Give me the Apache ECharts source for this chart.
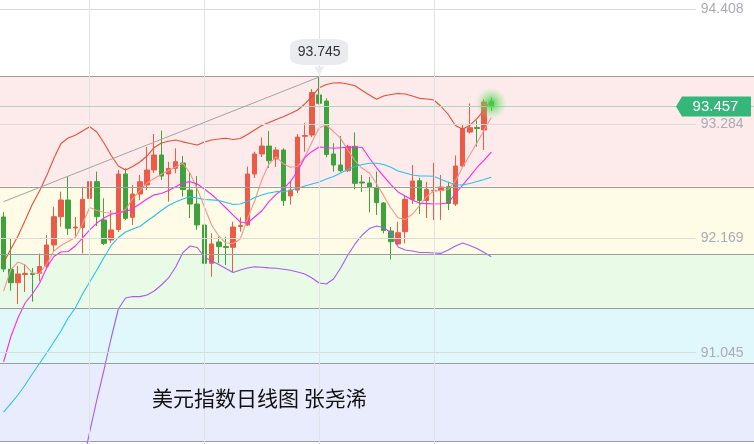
<!DOCTYPE html>
<html><head><meta charset="utf-8">
<script src="https://cdn.jsdelivr.net/npm/echarts@6/dist/echarts.min.js"></script>
<style>html,body{margin:0;padding:0;background:#fff}#c{width:754px;height:444px}</style>
</head><body><div id="c"></div>
<script>
// ---- data ----
const categories = Array.from({length: 69}, (_, i) => 'D' + (i + 1));
const opens = [92.374,91.862,91.731,91.811,91.821,91.823,91.894,92.100,92.377,92.540,
92.266,92.271,92.557,92.720,92.345,92.149,92.252,92.795,92.371,92.599,
92.687,92.834,92.981,92.795,92.851,92.903,92.638,92.501,92.296,91.921,
92.129,92.085,92.077,92.281,92.296,92.795,92.991,93.069,92.942,93.030,
92.580,92.638,93.164,93.177,93.569,93.510,92.991,92.883,92.827,93.066,
92.717,92.707,92.658,92.511,92.237,92.110,92.230,92.547,92.729,92.536,
92.629,92.633,92.671,92.501,92.873,93.206,93.250,93.226,93.503];
const closes = [91.865,91.731,91.816,91.821,91.811,91.889,92.100,92.377,92.540,92.263,
92.276,92.547,92.720,92.377,92.116,92.247,92.795,92.361,92.599,92.720,
92.834,92.981,92.775,92.849,92.915,92.643,92.501,92.296,91.921,92.110,
92.083,92.075,92.276,92.291,92.795,92.991,93.069,92.925,93.030,92.534,
92.638,93.157,93.172,93.593,93.487,92.986,92.883,92.827,93.066,92.704,
92.707,92.665,92.514,92.242,92.132,92.220,92.547,92.726,92.534,92.645,
92.635,92.668,92.506,92.873,93.243,93.248,93.241,93.500,93.457];
const lows = [91.835,91.652,91.522,91.639,91.544,91.747,91.874,92.034,92.279,92.198,
92.188,92.018,92.462,92.286,92.100,92.119,92.227,92.345,92.296,92.540,
92.638,92.805,92.736,92.524,92.802,92.573,92.364,92.247,91.872,91.789,
91.921,91.904,91.835,92.230,92.286,92.756,92.961,92.854,92.864,92.482,
92.496,92.609,93.013,93.157,93.476,92.959,92.818,92.815,92.815,92.645,
92.619,92.418,92.394,92.214,91.958,92.100,92.116,92.501,92.403,92.364,
92.345,92.345,92.442,92.482,92.869,93.192,93.062,93.030,93.412];
const highs = [92.423,92.165,91.894,91.914,91.874,92.016,92.198,92.475,92.622,92.775,
92.374,92.671,92.851,92.818,92.557,92.442,92.834,92.851,92.687,92.785,
93.059,93.187,93.219,92.913,93.047,92.971,92.815,92.775,92.305,92.214,
92.181,92.181,92.328,92.371,92.867,93.013,93.152,93.216,93.059,93.047,
92.726,93.187,93.294,93.627,93.745,93.536,93.096,93.167,93.079,93.203,
92.785,92.766,92.818,92.521,92.276,92.328,92.589,92.883,92.759,92.717,
92.903,92.785,92.720,92.976,93.285,93.485,93.319,93.529,93.546];
const bollUpper = [91.927,92.058,92.188,92.339,92.497,92.629,92.777,92.947,93.094,93.148,
93.174,93.216,93.258,93.206,93.099,92.976,92.873,92.834,92.869,92.913,
92.971,93.055,93.099,93.115,93.128,93.110,93.094,93.079,93.108,93.128,
93.138,93.145,93.133,93.143,93.182,93.226,93.270,93.299,93.329,93.355,
93.388,93.422,93.481,93.554,93.640,93.672,93.686,93.689,93.676,93.659,
93.613,93.569,93.527,93.559,93.574,93.583,93.578,93.559,93.536,93.529,
93.520,93.456,93.378,93.270,93.234,93.272,93.337,93.422,93.520];
const ma5 = [91.649,91.857,91.933,91.904,91.826,91.821,91.914,92.041,92.095,92.134,
92.173,92.305,92.467,92.438,92.420,92.411,92.410,92.447,92.554,92.633,
92.707,92.751,92.792,92.830,92.864,92.900,92.802,92.648,92.472,92.296,
92.188,92.119,92.114,92.159,92.354,92.531,92.736,92.893,92.962,92.896,
92.861,92.869,92.962,93.108,93.248,93.275,93.211,93.144,93.027,92.927,
92.851,92.805,92.700,92.583,92.462,92.366,92.348,92.403,92.485,92.576,
92.629,92.633,92.643,92.725,92.864,92.981,93.099,93.226,93.348];
const ma10 = [90.954,91.199,91.385,91.532,91.620,91.723,91.875,91.987,92.031,92.036,
92.090,92.168,92.247,92.315,92.364,92.401,92.418,92.425,92.457,92.501,
92.550,92.591,92.604,92.633,92.670,92.710,92.720,92.697,92.648,92.594,
92.531,92.462,92.393,92.325,92.315,92.374,92.433,92.524,92.596,92.648,
92.722,92.824,92.957,93.016,93.059,93.054,93.047,93.052,93.057,93.059,
93.054,92.952,92.856,92.771,92.690,92.619,92.580,92.540,92.508,92.505,
92.501,92.504,92.511,92.604,92.687,92.769,92.859,92.932,93.010];
const ma20 = [90.464,90.547,90.631,90.729,90.836,90.939,91.042,91.150,91.258,91.385,
91.483,91.620,91.737,91.855,91.977,92.095,92.173,92.227,92.256,92.281,
92.335,92.384,92.438,92.487,92.521,92.550,92.572,92.560,92.546,92.542,
92.536,92.516,92.496,92.501,92.526,92.565,92.589,92.609,92.622,92.622,
92.633,92.655,92.677,92.697,92.717,92.746,92.771,92.805,92.839,92.869,
92.888,92.900,92.900,92.888,92.861,92.825,92.805,92.785,92.775,92.775,
92.773,92.741,92.714,92.690,92.687,92.702,92.722,92.741,92.763];
const bollLower = [null,null,null,null,null,null,null,null,null,null,
89.603,89.945,90.268,90.582,90.876,91.189,91.473,91.581,91.596,91.594,
91.610,91.649,91.708,91.777,91.884,92.026,92.090,92.075,91.982,91.943,
91.909,91.869,91.830,91.855,91.874,91.886,91.882,91.876,91.872,91.863,
91.853,91.835,91.816,91.777,91.728,91.718,91.767,91.874,92.002,92.110,
92.198,92.261,92.286,92.271,92.217,92.080,92.051,92.041,92.026,92.026,
92.022,92.018,92.051,92.090,92.119,92.095,92.066,92.026,91.985];
const tickLabels = [94.408, 93.284, 92.169, 91.045];
const fibLevels = [93.745, 92.675, 92.013, 91.478, 90.943, 90.177];
const lastPrice = 93.457;
const trendStart = 92.524;
const peakIndex = 44;
const titleText = '美元指数日线图 张尧浠';

// ---- styles / layout ----
const Y_MIN = 90.151, Y_MAX = 94.499;
const zoneColors = ['#fdebec', '#fefbe6', '#e9fae6', '#e0f8fb', '#e8ecfd'];
const vLineSlots = [12, 28, 44, 60];
const padCount = 28;

const xData = categories.concat(Array.from({length: padCount}, (_, i) => 'pad' + i));
const ohlc = opens.map((o, i) => [o, closes[i], lows[i], highs[i]]);
const peakHigh = highs[peakIndex];

const zoneAreas = [];
for (let i = 0; i < fibLevels.length - 1; i++) {
  zoneAreas.push([{yAxis: fibLevels[i], itemStyle: {color: zoneColors[i]}}, {yAxis: fibLevels[i + 1]}]);
}

function lineSeries(name, data, color) {
  return {name, type: 'line', xAxisIndex: 1, yAxisIndex: 1, data, symbol: 'none', showSymbol: false,
    lineStyle: {color, width: 1.1}, z: 4, silent: true, connectNulls: false, clip: true};
}

const chart = echarts.init(document.getElementById('c'));
chart.setOption({
  animation: false,
  grid: [{left: 0, right: 0, top: 0, bottom: 0}, {left: 0, right: 58.3, top: 0, bottom: 0}],
  xAxis: [
    {type: 'value', gridIndex: 0, min: 0, max: 754, show: false},
    {type: 'category', gridIndex: 1, data: xData, boundaryGap: true,
     axisLine: {show: false}, axisTick: {show: false}, axisLabel: {show: false}, splitLine: {show: false}}
  ],
  yAxis: [
    {type: 'value', gridIndex: 0, min: Y_MIN, max: Y_MAX, show: false},
    {type: 'value', gridIndex: 1, min: Y_MIN, max: Y_MAX, position: 'right', z: 30,
     axisLine: {show: false}, axisTick: {show: false}, splitLine: {show: false},
     axisLabel: {customValues: tickLabels, formatter: v => v.toFixed(3), color: '#ababb5',
       fontSize: 14, margin: 5, fontFamily: 'Liberation Sans, Arial, sans-serif'}}
  ],
  graphic: [{type: 'text', left: 152, top: 388, z: 100,
    style: {text: titleText, font: '21px "Noto Sans CJK SC"', fill: '#111'}}],
  series: [
    {type: 'line', xAxisIndex: 0, yAxisIndex: 0, data: [], z: 0, silent: true,
     markArea: {silent: true, data: zoneAreas},
     markLine: {silent: true, symbol: ['none', 'none'], label: {show: false},
       lineStyle: {color: '#9d9d9d', width: 1, type: 'solid'},
       data: fibLevels.map(v => ({yAxis: v}))}},
    {type: 'line', xAxisIndex: 1, yAxisIndex: 1, data: [], z: 1, silent: true,
     markLine: {silent: true, symbol: ['none', 'none'], label: {show: false},
       lineStyle: {color: '#dadada', width: 1, type: 'solid'},
       data: tickLabels.map(v => ({yAxis: v})).concat(vLineSlots.map(s => ({xAxis: s, lineStyle: {color: '#e2e2e6'}})))}},
    {type: 'line', xAxisIndex: 0, yAxisIndex: 0, data: [], z: 2, silent: true,
     markLine: {silent: true, symbol: ['none', 'none'], label: {show: false},
       lineStyle: {color: '#a6d8c2', width: 1, type: 'solid'}, data: [{yAxis: lastPrice}]}},
    {type: 'line', xAxisIndex: 1, yAxisIndex: 1, data: [], z: 2, silent: true,
     markLine: {silent: true, symbol: ['none', 'none'], label: {show: false},
       lineStyle: {color: '#a3a3a3', width: 1, type: 'solid'},
       data: [[{coord: [0, trendStart]}, {coord: [peakIndex, peakHigh]}]]}},
    {type: 'candlestick', xAxisIndex: 1, yAxisIndex: 1, data: ohlc, barWidth: 5, z: 3, silent: true,
     itemStyle: {color: '#eb5b47', color0: '#3ea33c', borderColor: '#eb5b47', borderColor0: '#3ea33c', borderWidth: 1}},
    lineSeries('upper', bollUpper, '#e25036'),
    lineSeries('ma5', ma5, '#f5978a'),
    lineSeries('ma10', ma10, '#ff27f0'),
    lineSeries('ma20', ma20, '#27c3ee'),
    lineSeries('lower', bollLower, '#a65af5'),
    {type: 'line', xAxisIndex: 1, yAxisIndex: 1, data: [], z: 8, silent: true,
     markPoint: {silent: true, data: [
       {coord: [peakIndex, peakHigh], value: peakHigh, symbol: 'roundRect', symbolSize: [58, 26], symbolOffset: [0, -25],
        itemStyle: {color: '#e9ebee'},
        label: {show: true, position: 'inside', formatter: '{c}', color: '#333', fontSize: 14, fontFamily: 'Liberation Sans, Arial, sans-serif'}},
       {coord: [peakIndex, peakHigh], symbol: 'triangle', symbolRotate: 180, symbolSize: [10, 9], symbolOffset: [0, -6],
        itemStyle: {color: '#e9ebee'}, label: {show: false}},
       {coord: [ohlc.length - 1, 93.487], symbol: 'circle', symbolSize: 32,
        itemStyle: {color: {type: 'radial', x: 0.5, y: 0.5, r: 0.5, colorStops: [
          {offset: 0, color: 'rgba(60,205,60,0.95)'}, {offset: 0.35, color: 'rgba(90,215,90,0.6)'}, {offset: 1, color: 'rgba(140,230,140,0)'}]}},
        label: {show: false}}
     ]}},
    {type: 'line', xAxisIndex: 0, yAxisIndex: 0, data: [], z: 9, silent: true,
     markPoint: {silent: true, data: [
       {coord: [713.5, lastPrice], value: lastPrice, symbol: 'path://M0,10L6,0L75,0L75,20L6,20Z',
        symbolSize: [75, 20], symbolKeepAspect: false, itemStyle: {color: '#35b67b'},
        label: {show: true, position: 'inside', offset: [2, 0], formatter: p => p.value.toFixed(3), color: '#fff', fontSize: 15,
          fontFamily: 'Liberation Sans, Arial, sans-serif'}}
     ]}}
  ]
});
</script></body></html>
